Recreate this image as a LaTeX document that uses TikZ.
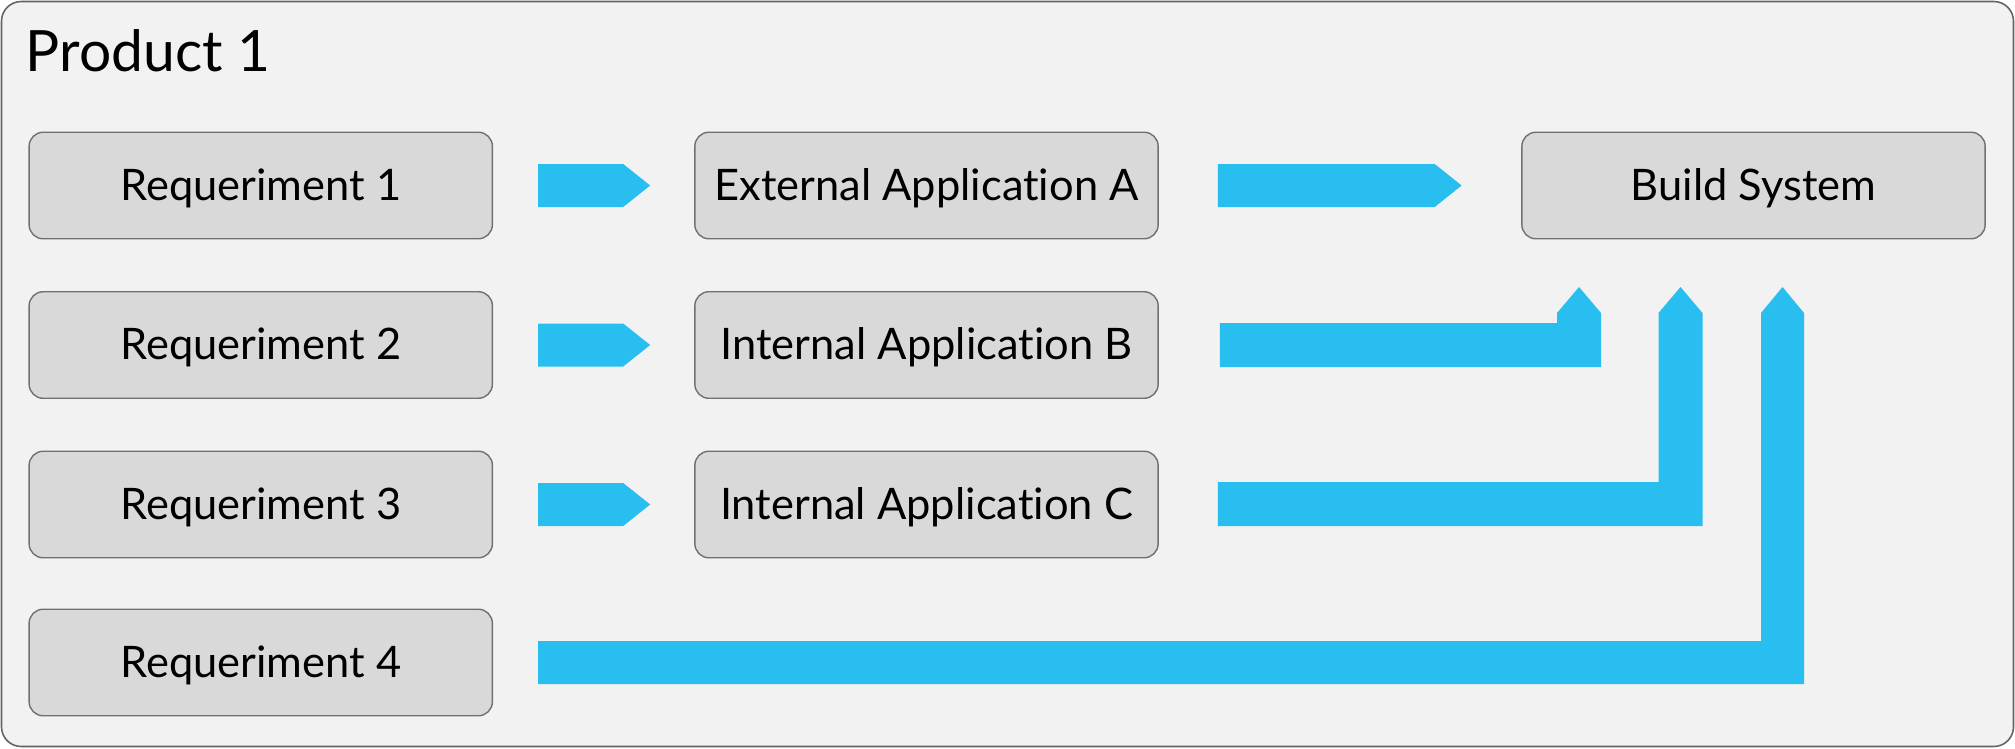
\documentclass[tikz,border=0pt]{standalone}
\usepackage{fontspec}
\setmainfont{Lato}[Ligatures=NoCommon]
\usetikzlibrary{calc}
\definecolor{flowblue}{RGB}{41,190,240}
\definecolor{panelfill}{RGB}{242,242,242}
\definecolor{panelline}{RGB}{100,100,100}
\definecolor{boxfill}{RGB}{217,217,217}
\definecolor{boxline}{RGB}{112,112,112}
\begin{document}
\begin{tikzpicture}[x=0.01cm,y=-0.01cm,
  panel/.style={fill=panelfill,draw=panelline,line width=0.45pt,rounded corners=5.6pt},
  stage/.style={fill=boxfill,draw=boxline,line width=0.4pt,rounded corners=4pt,
    minimum width=4.63cm,minimum height=1.065cm,inner sep=0pt,
    text height=8.8pt,text depth=0.35pt,font=\fontsize{12.35pt}{15pt}\selectfont},
  flow/.style={fill=flowblue,draw=none}]
\useasboundingbox (0,0) rectangle (2015,748);

% enclosing product panel
\draw[panel] (1.5,1.5) rectangle (2013.5,746.5);
\node[anchor=base west,inner sep=0pt,font=\fontsize{16.2pt}{20pt}\selectfont] (title) at (25,71) {Product 1};

% requirement column
\node[stage] (r1) at (260.75,185.5) {Requeriment 1};
\node[stage] (r2) at (260.75,345) {Requeriment 2};
\node[stage] (r3) at (260.75,504.5) {Requeriment 3};
\node[stage] (r4) at (260.75,662.5) {Requeriment 4};

% application column
\node[stage] (a1) at (926.5,185.5) {External Application A};
\node[stage] (a2) at (926.5,345) {Internal Application B};
\node[stage] (a3) at (926.5,504.5) {Internal Application C};

% build system
\node[stage] (bs) at (1753.5,185.5) {Build System};

% short block arrows: requirement -> application
\newcommand{\shortflow}[2]{%
  \fill[flow] ($(#1.east)+(45,-21.5)$) -- ($(#2.west)+(-71,-21.5)$)
    -- ($(#2.west)+(-44,0)$) -- ($(#2.west)+(-71,21.5)$)
    -- ($(#1.east)+(45,21.5)$) -- cycle;}
\shortflow{r1}{a1}
\shortflow{r2}{a2}
\shortflow{r3}{a3}

% external application -> build system
\fill[flow] ($(a1.east)+(59,-21.5)$) -- ($(bs.west)+(-86.5,-21.5)$)
  -- ($(bs.west)+(-59.5,0)$) -- ($(bs.west)+(-86.5,21.5)$)
  -- ($(a1.east)+(59,21.5)$) -- cycle;

% bent block arrows rising towards the build system
\fill[flow] ($(a2.east)+(61,-22)$) -- (1557,323) -- (1557,313) -- (1579,287)
  -- (1601,313) -- (1601,367) -- ($(a2.east)+(61,22)$) -- cycle;
\fill[flow] ($(a3.east)+(59,-22.5)$) -- (1658.5,482) -- (1658.5,313) -- (1680.5,287)
  -- (1702.5,313) -- (1702.5,526) -- ($(a3.east)+(59,21.5)$) -- cycle;
\fill[flow] ($(r4.east)+(45,-21.5)$) -- (1761,641) -- (1761,313) -- (1782.5,287)
  -- (1804,313) -- (1804,684) -- ($(r4.east)+(45,21.5)$) -- cycle;
\end{tikzpicture}
\end{document}
